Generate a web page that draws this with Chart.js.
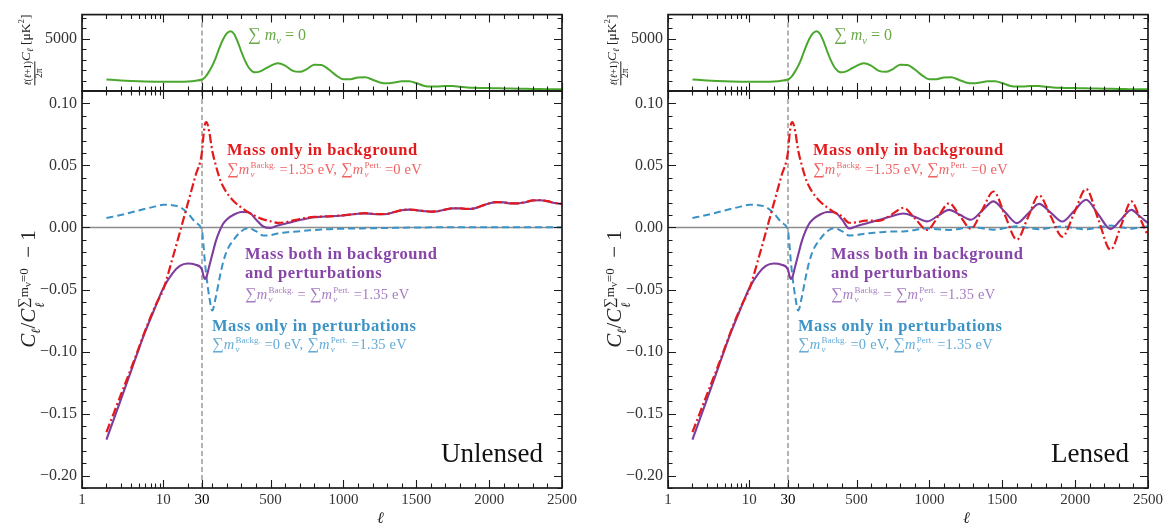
<!DOCTYPE html>
<html>
<head>
<meta charset="utf-8">
<script src="https://cdn.jsdelivr.net/npm/chart.js@4.4.1/dist/chart.umd.min.js"></script>
<style>
html, body { margin: 0; padding: 0; background: #fff; }
#wrap { position: relative; width: 1168px; height: 526px; overflow: hidden; font-family: 'Liberation Serif', serif; }
canvas { position: absolute; left: 0; top: 0; }
.t { position: absolute; white-space: nowrap; line-height: 1; }
.h { font-weight: bold; font-size: 16.5px; letter-spacing: 0.55px; }
.s { font-size: 14.5px; letter-spacing: 0.2px; }
.sum { font-size: 1.12em; }
.ss { display: inline-flex; flex-direction: column; font-size: 0.62em; line-height: 1; vertical-align: 0.62em; margin-left: 1px; letter-spacing: 0; }
.red { color: #e31a1c; } .red2 { color: #ef6262; }
.pur { color: #8745a8; } .pur2 { color: #a67cc2; }
.blu { color: #3b93c6; } .blu2 { color: #63abd8; }
.grn { color: #6aa948; font-size: 16px; }
.big { font-size: 27px; color: #111; }
.rot { position: absolute; transform: translate(-50%, -50%) rotate(-90deg); white-space: nowrap; line-height: 1; color: #222; }
.frac { display: inline-flex; flex-direction: column; font-size: 9.5px; text-align: center; vertical-align: -0.2em; }
.frac span + span { border-top: 0.8px solid #222; }
</style>
</head>
<body>
<div id="wrap">
  <canvas id="lt" width="1168" height="526"></canvas>
  <canvas id="lm" width="1168" height="526"></canvas>
  <canvas id="rt" width="1168" height="526"></canvas>
  <canvas id="rm" width="1168" height="526"></canvas>
</div>
<script>
// multipoles, low-l part shared by every ratio curve
const ellLow = [2, 3, 4, 5, 6, 8, 10, 13, 16, 20, 25, 30, 40, 50, 60, 80, 100, 125, 150, 175, 200, 250, 300, 350, 400, 450, 500];
const redLow    = [-0.165, -0.135, -0.114, -0.097, -0.083, -0.063, -0.050, -0.025, -0.004, 0.019, 0.042, 0.061, 0.074, 0.083, 0.085, 0.077, 0.062, 0.050, 0.040, 0.033, 0.028, 0.021, 0.016, 0.012, 0.009, 0.0065, 0.005];
const purpleLow = [-0.171, -0.139, -0.116, -0.098, -0.084, -0.064, -0.049, -0.037, -0.031, -0.029, -0.030, -0.034, -0.039, -0.0415, -0.040, -0.031, -0.022, -0.011, -0.003, 0.003, 0.0065, 0.0105, 0.0125, 0.0122, 0.0065, 0.0008, -0.0003];
const blueLow   = [0.0076, 0.010, 0.012, 0.0137, 0.015, 0.017, 0.0183, 0.018, 0.0165, 0.0115, 0.004, -0.003, -0.014, -0.028, -0.039, -0.056, -0.067, -0.056, -0.041, -0.028, -0.019, -0.0095, -0.003, -0.0006, -0.003, -0.0065, -0.0062];

// unlensed, high l
const ellHigh = [550, 600, 650, 700, 750, 800, 850, 900, 950, 1000, 1050, 1100, 1150, 1200, 1250, 1300, 1350, 1400, 1450, 1500, 1550, 1600, 1650, 1700, 1750, 1800, 1850, 1900, 1950, 2000, 2050, 2100, 2150, 2200, 2250, 2300, 2350, 2400, 2450, 2500];
const redUnl    = [0.0037, 0.0042, 0.0055, 0.0068, 0.0078, 0.0085, 0.0088, 0.009, 0.0093, 0.0098, 0.0105, 0.0112, 0.0115, 0.011, 0.0108, 0.011, 0.0125, 0.014, 0.0145, 0.014, 0.0133, 0.0128, 0.0132, 0.0145, 0.0155, 0.0155, 0.015, 0.0155, 0.0175, 0.0195, 0.0205, 0.0203, 0.0195, 0.0195, 0.0205, 0.0218, 0.022, 0.0212, 0.0198, 0.019];
const purpleUnl = [0.0015, 0.003, 0.0045, 0.006, 0.0073, 0.0082, 0.0086, 0.0089, 0.0092, 0.0097, 0.0104, 0.0111, 0.0114, 0.0109, 0.0107, 0.0109, 0.0124, 0.0139, 0.0144, 0.0139, 0.0132, 0.0127, 0.0131, 0.0144, 0.0154, 0.0154, 0.0149, 0.0154, 0.0174, 0.0194, 0.0204, 0.0202, 0.0194, 0.0194, 0.0204, 0.0217, 0.0219, 0.0211, 0.0197, 0.0189];
const blueUnl   = [-0.0048, -0.0041, -0.0035, -0.003, -0.0025, -0.002, -0.0017, -0.0014, -0.0012, -0.001, -0.0009, -0.0008, -0.0007, -0.0006, -0.0005, -0.0004, -0.0003, -0.0002, -0.0001, 0, 0, 0.0001, 0.0001, 0.0001, 0.0001, 0.0002, 0.0002, 0.0002, 0.0002, 0.0002, 0.0002, 0.0002, 0.0002, 0.0002, 0.0002, 0.0002, 0.0002, 0.0002, 0.0002, 0.0002];

// lensed, high l (peaks / troughs of the lensing wiggles)
const ellLens = [450, 505, 560, 605, 650, 736, 822, 903, 985, 1060, 1135, 1210, 1285, 1362, 1440, 1520, 1600, 1676, 1752, 1832, 1912, 1994, 2075, 2159, 2243, 2315, 2386, 2443, 2500];
const redLens    = [0.0038, 0.0042, 0.0055, 0.0055, 0.0052, 0.010, 0.0158, 0.007, -0.002, 0.0088, 0.0195, 0.0092, -0.001, 0.014, 0.029, 0.0095, -0.0098, 0.008, 0.026, 0.0092, -0.0075, 0.0118, 0.031, 0.0065, -0.018, 0.0015, 0.021, 0.008, -0.007];
const purpleLens = [-0.0008, 0.0012, 0.003, 0.0045, 0.006, 0.0088, 0.0113, 0.0085, 0.0049, 0.0095, 0.0142, 0.0102, 0.0062, 0.0135, 0.021, 0.0122, 0.0035, 0.011, 0.019, 0.012, 0.0048, 0.0135, 0.0223, 0.0105, -0.0013, 0.0065, 0.0142, 0.009, 0.0035];
const blueLens   = [-0.0065, -0.006, -0.005, -0.0045, -0.004, -0.0033, -0.0032, -0.002, -0.0008, -0.0014, -0.002, -0.001, 0.0003, -0.0007, -0.0018, -0.0005, 0.001, -0.0003, -0.0015, -0.0002, 0.0008, -0.0004, -0.0015, 0, 0.0015, 0.0002, -0.001, 0, 0.0008];

// temperature spectrum l(l+1)C_l/2pi [muK^2], massless case
const ellTT = [2, 3, 4, 5, 6, 8, 10, 13, 16, 20, 25, 30, 40, 50, 60, 80, 100, 125, 150, 175, 200, 225, 250, 275, 300, 325, 350, 375, 400, 425, 450, 500, 550, 600, 650, 700, 750, 800, 850, 900, 950, 1000, 1050, 1100, 1150, 1200, 1250, 1300, 1350, 1400, 1450, 1500, 1550, 1600, 1650, 1700, 1750, 1800, 1850, 1900, 1950, 2000, 2050, 2100, 2150, 2200, 2250, 2300, 2350, 2400, 2450, 2500];
const dTT = [1100, 1010, 960, 930, 910, 890, 880, 875, 880, 910, 980, 1100, 1180, 1300, 1470, 1900, 2400, 3200, 4150, 4950, 5500, 5720, 5450, 4700, 3750, 2900, 2250, 1880, 1780, 1850, 2020, 2400, 2640, 2420, 1950, 1830, 2100, 2520, 2480, 2050, 1500, 1130, 1130, 1290, 1310, 1080, 820, 730, 810, 930, 920, 760, 510, 420, 440, 480, 470, 400, 330, 300, 290, 275, 265, 250, 240, 225, 205, 190, 180, 172, 165, 160];

// ticks
const xMajor = [1, 10, 30, 500, 1000, 1500, 2000, 2500];
const xMinor = [2, 3, 4, 5, 6, 7, 8, 9, 20, 100, 200, 300, 400, 600, 700, 800, 900, 1100, 1200, 1300, 1400, 1600, 1700, 1800, 1900, 2100, 2200, 2300, 2400];
const yMainTicks = [-0.20, -0.15, -0.10, -0.05, 0.00, 0.05, 0.10];
const yTopTicks = [5000];
const yMainMinor = [];
for (let k = -21; k <= 11; k++) if (k % 5 !== 0) yMainMinor.push(k / 100);
const yTopMinor = [1000, 2000, 3000, 4000, 6000, 7000];

// log axis from 1 to 30, linear from 30 to 2500
const LOG_SHARE = 0.25;
class HybridScale extends Chart.LinearScale {
  static id = 'hybrid';
  static defaults = {};
  determineDataLimits() { this.min = 1; this.max = 2500; }
  buildTicks() { return xMajor.map(v => ({ value: v })); }
  toDecimal(v) {
    if (v <= 30) return LOG_SHARE * Math.log10(Math.max(v, 1)) / Math.log10(30);
    return LOG_SHARE + (1 - LOG_SHARE) * (v - 30) / 2470;
  }
  getPixelForValue(v) { return this.getPixelForDecimal(this.toDecimal(v)); }
  getValueForPixel(p) {
    const d = this.getDecimalForPixel(p);
    return d <= LOG_SHARE ? Math.pow(30, d / LOG_SHARE) : 30 + (d - LOG_SHARE) / (1 - LOG_SHARE) * 2470;
  }
}
Chart.register(HybridScale);

const frame = {
  id: 'frame',
  beforeDatasetsDraw(chart, args, o) {
    const { ctx, chartArea: a, scales: { x, y } } = chart;
    ctx.save();
    ctx.strokeStyle = '#8c8c8c';
    if (o.zero) {
      const py = y.getPixelForValue(0);
      ctx.lineWidth = 1.5;
      ctx.beginPath(); ctx.moveTo(a.left, py); ctx.lineTo(a.right, py); ctx.stroke();
    }
    const px = x.getPixelForValue(30);
    ctx.lineWidth = 1.3;
    ctx.setLineDash([5, 3]);
    ctx.beginPath(); ctx.moveTo(px, a.top); ctx.lineTo(px, a.bottom); ctx.stroke();
    ctx.restore();
  },
  afterDraw(chart, args, o) {
    const { ctx, chartArea: a, scales: { x, y } } = chart;
    ctx.save();
    ctx.strokeStyle = '#1a1a1a';
    ctx.lineWidth = 1.1;
    ctx.beginPath();
    const seg = (x0, y0, x1, y1) => { ctx.moveTo(x0, y0); ctx.lineTo(x1, y1); };
    const xt = (v, len) => {
      const p = Math.round(x.getPixelForValue(v)) + 0.5;
      seg(p, a.bottom, p, a.bottom - len); seg(p, a.top, p, a.top + len);
    };
    const yt = (v, len) => {
      const p = Math.round(y.getPixelForValue(v)) + 0.5;
      seg(a.left, p, a.left + len, p); seg(a.right, p, a.right - len, p);
    };
    xMajor.forEach(v => xt(v, 8));
    xMinor.forEach(v => xt(v, 4.5));
    o.yMajor.forEach(v => yt(v, 8));
    o.yMinor.forEach(v => yt(v, 4.5));
    ctx.stroke();
    ctx.lineWidth = 1.7;
    ctx.strokeRect(a.left, a.top, a.right - a.left, a.bottom - a.top);
    ctx.restore();
  }
};

const pts = (ells, vals) => ells.map((l, i) => ({ x: l, y: vals[i] }));
const upTo = (arr, n) => arr.slice(0, n);
const nLens = ellLow.indexOf(400) + 1;

const tickFont = { family: "'Liberation Serif', serif", size: 16 };

function makeMain(id, left, right, red, purple, blue) {
  return new Chart(document.getElementById(id), {
    type: 'line',
    data: {
      datasets: [
        { data: red, borderColor: '#e31a1c', borderWidth: 2.2, borderDash: [9, 3, 2, 3] },
        { data: purple, borderColor: '#7e3c9c', borderWidth: 2.1 },
        { data: blue, borderColor: '#3a92c6', borderWidth: 2, borderDash: [7, 4] }
      ]
    },
    options: {
      responsive: false, animation: false, events: [],
      layout: { padding: { left: 0, top: 91, right: 1168 - right, bottom: 0 } },
      elements: { point: { radius: 0 }, line: { cubicInterpolationMode: 'monotone', fill: false } },
      plugins: { legend: { display: false }, tooltip: { enabled: false },
        frame: { zero: true, yMajor: yMainTicks, yMinor: yMainMinor } },
      scales: {
        x: {
          type: 'hybrid',
          grid: { display: false, drawTicks: false }, border: { display: false },
          ticks: { font: { family: "'Liberation Serif', serif", size: 15 }, padding: 3, maxRotation: 0, autoSkip: false,
            color: c => (c.tick && c.tick.value === 30 ? '#000' : '#333'),
            callback: v => String(v) },
          afterFit: s => { s.height = 526 - 488; }
        },
        y: {
          min: -0.21, max: 0.11,
          grid: { display: false, drawTicks: false }, border: { display: false },
          ticks: { font: tickFont, color: '#333', padding: 5, callback: v => v.toFixed(2).replace('-', '\u2212') },
          afterBuildTicks: s => { s.ticks = yMainTicks.map(v => ({ value: v })); },
          afterFit: s => { s.width = left; }
        }
      }
    },
    plugins: [frame]
  });
}

function makeTop(id, left, right) {
  return new Chart(document.getElementById(id), {
    type: 'line',
    data: { datasets: [{ data: pts(ellTT, dTT), borderColor: '#4aa72e', borderWidth: 2 }] },
    options: {
      responsive: false, animation: false, events: [],
      layout: { padding: { left: 0, top: 12, right: 1168 - right, bottom: 526 - 91 } },
      elements: { point: { radius: 0 }, line: { cubicInterpolationMode: 'monotone', fill: false } },
      plugins: { legend: { display: false }, tooltip: { enabled: false },
        frame: { zero: false, yMajor: yTopTicks, yMinor: yTopMinor } },
      scales: {
        x: { type: 'hybrid', display: false },
        y: {
          min: 0, max: 7300,
          grid: { display: false, drawTicks: false }, border: { display: false },
          ticks: { font: tickFont, color: '#333', padding: 5, callback: v => String(v) },
          afterBuildTicks: s => { s.ticks = yTopTicks.map(v => ({ value: v })); },
          afterFit: s => { s.width = left; }
        }
      }
    },
    plugins: [frame]
  });
}

makeTop('lt', 82, 562);
makeTop('rt', 668, 1148);
makeMain('lm', 82, 562,
  pts(ellLow.concat(ellHigh), redLow.concat(redUnl)),
  pts(ellLow.concat(ellHigh), purpleLow.concat(purpleUnl)),
  pts(ellLow.concat(ellHigh), blueLow.concat(blueUnl)));
makeMain('rm', 668, 1148,
  pts(upTo(ellLow, nLens).concat(ellLens), upTo(redLow, nLens).concat(redLens)),
  pts(upTo(ellLow, nLens).concat(ellLens), upTo(purpleLow, nLens).concat(purpleLens)),
  pts(upTo(ellLow, nLens).concat(ellLens), upTo(blueLow, nLens).concat(blueLens)));

// text
const SUM = '<span class="sum">\u2211</span>';
const mnu = sup => `<i>m</i><span class="ss"><span>${sup}</span><i>\u03bd</i></span>`;
function panelText(dx, tag) {
  return `
  <div class="t grn" style="left:${248 + dx}px;top:26px">${SUM} <i>m</i><sub style="font-size:0.65em"><i>\u03bd</i></sub> = 0</div>
  <div class="t h red" style="left:${227 + dx}px;top:142px">Mass only in background</div>
  <div class="t s red2" style="left:${227 + dx}px;top:161px">${SUM}${mnu('Backg.')} =1.35 eV, ${SUM}${mnu('Pert.')} =0 eV</div>
  <div class="t h pur" style="left:${245 + dx}px;top:246px">Mass both in background</div>
  <div class="t h pur" style="left:${245 + dx}px;top:265px">and perturbations</div>
  <div class="t s pur2" style="left:${245 + dx}px;top:286px">${SUM}${mnu('Backg.')} = ${SUM}${mnu('Pert.')} =1.35 eV</div>
  <div class="t h blu" style="left:${212 + dx}px;top:318px">Mass only in perturbations</div>
  <div class="t s blu2" style="left:${212 + dx}px;top:336px">${SUM}${mnu('Backg.')} =0 eV, ${SUM}${mnu('Pert.')} =1.35 eV</div>
  <div class="t big" style="right:${625 - dx}px;top:440px">${tag}</div>
  <div class="t" style="left:${377 + dx}px;top:510px;font-size:16px;font-style:italic;color:#222">\u2113</div>
  <div class="rot" style="left:${31 + dx}px;top:289px;font-size:21px"><i>C</i><sub style="font-size:0.6em"><i>\u2113</i></sub>/<i>C</i><span class="ss" style="vertical-align:0.55em"><span>${SUM}m<sub>\u03bd</sub>=0</span><i>\u2113</i></span>&nbsp;&nbsp;\u2212 1</div>
  <div class="rot" style="left:${31 + dx}px;top:50px;font-size:13.5px"><span class="frac"><span><i>\u2113</i>(<i>\u2113</i>+1)</span><span>2\u03c0</span></span><i>C</i><sub style="font-size:0.65em"><i>\u2113</i></sub> [\u03bcK<sup style="font-size:0.65em">2</sup>]</div>`;
}
document.getElementById('wrap').insertAdjacentHTML('beforeend', panelText(0, 'Unlensed') + panelText(586, 'Lensed'));
</script>
</body>
</html>
